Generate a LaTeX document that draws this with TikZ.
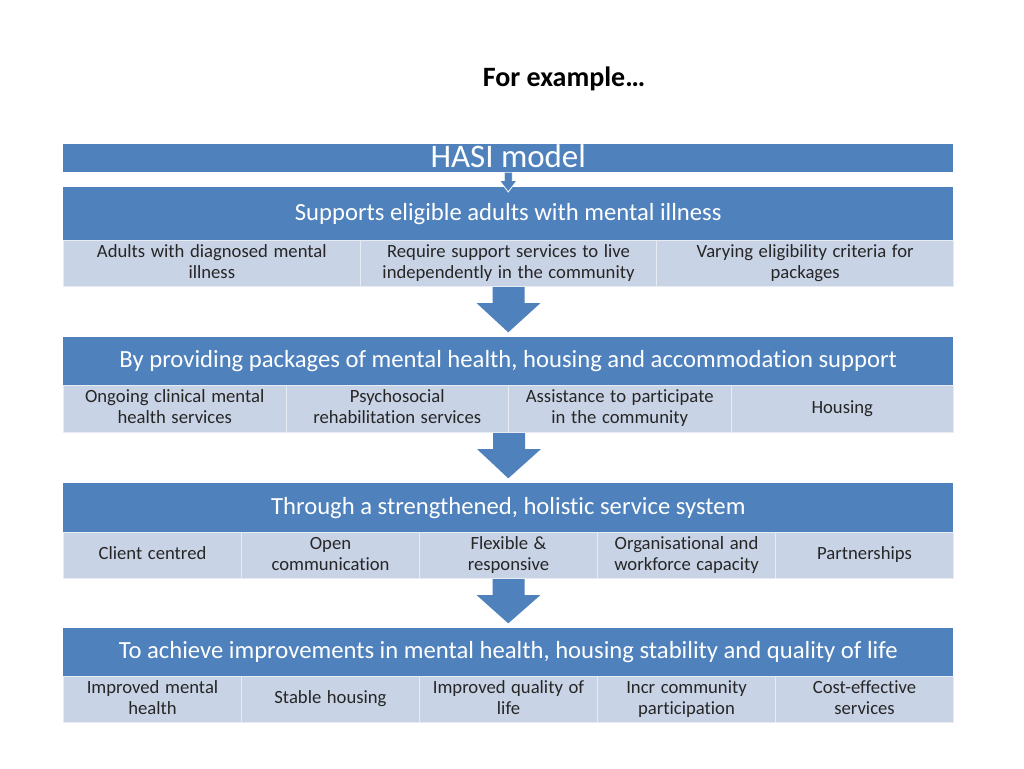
\documentclass[tikz,border=0pt]{standalone}
\usepackage{fontspec}
\setmainfont[Ligatures=NoCommon]{Carlito}
\usetikzlibrary{calc}
\definecolor{hblue}{HTML}{4F81BD}
\definecolor{cellc}{HTML}{C9D3E6}
\definecolor{celltext}{HTML}{262626}
\newcommand\hasiflow[2]{%
  \fill[hblue] let \p1=(#1), \p2=(#2) in
    (\x1-12pt,\y1) -- (\x1-12pt,\y1-12pt) -- (\x1-24pt,\y1-12pt) --
    (\x2,\y2+3.5pt) -- (\x1+24pt,\y1-12pt) -- (\x1+12pt,\y1-12pt) --
    (\x1+12pt,\y1) -- cycle;}
\newcommand\twol[2]{\strut #1\\\strut #2}
\newcommand\onel[1]{\strut #1}
\newcommand\cellfont{\fontsize{14}{15.8}\selectfont\spaceskip=0.3em plus 0.1em minus 0.05em\relax}
\begin{document}
\begin{tikzpicture}[x=0.75pt,y=-0.75pt,
  hdr/.style={rectangle, fill=hblue, text=white, inner sep=0pt, anchor=north west,
    minimum width=890*0.75pt, font=\fontsize{18.5}{22}\selectfont},
  cell/.style={rectangle, fill=cellc, draw=white!55!cellc, line width=0.75pt,
    text=celltext, inner sep=0pt, anchor=north west, align=center,
    font=\cellfont},
  w3/.style={minimum width=296.67*0.75pt},
  w4/.style={minimum width=222.5*0.75pt},
  w5/.style={minimum width=178*0.75pt},
]
\useasboundingbox (0,0) rectangle (1024,768);
\fill[white] (0,0) rectangle (1024,768);

\node[font=\bfseries\fontsize{21}{25}\selectfont, anchor=base, inner sep=0pt] (title) at (564,86) {For example…};

% HASI bar
\node[hdr, minimum height=28*0.75pt, text height=17.25pt, text depth=3.75pt,
  font=\fontsize{24.7}{28}\selectfont] (hasi) at (63,144) {HASI model};

% Section 1
\node[hdr, minimum height=53*0.75pt] (h1) at (63,187) {Supports eligible adults with mental illness};
\node[cell, w3, minimum height=46*0.75pt] (c11) at (63,240) {\twol{Adults with diagnosed mental}{illness}};
\node[cell, w3, minimum height=46*0.75pt] (c12) at (359.67,240) {\twol{Require support services to live}{independently in the community}};
\node[cell, w3, minimum height=46*0.75pt] (c13) at (656.33,240) {\twol{Varying eligibility criteria for}{packages}};

% Section 2
\node[hdr, minimum height=48*0.75pt] (h2) at (63,337) {By providing packages of mental health, housing and accommodation support};
\node[cell, w4, minimum height=47*0.75pt] (c21) at (63,385) {\twol{Ongoing clinical mental}{health services}};
\node[cell, w4, minimum height=47*0.75pt] (c22) at (285.5,385) {\twol{Psychosocial}{rehabilitation services}};
\node[cell, w4, minimum height=47*0.75pt] (c23) at (508,385) {\twol{Assistance to participate}{in the community}};
\node[cell, w4, minimum height=47*0.75pt] (c24) at (730.5,385) {\onel{Housing}};

% Section 3
\node[hdr, minimum height=49*0.75pt] (h3) at (63,483) {Through a strengthened, holistic service system};
\node[cell, w5, minimum height=46*0.75pt] (c31) at (63,532) {\onel{Client centred}};
\node[cell, w5, minimum height=46*0.75pt] (c32) at (241,532) {\twol{Open}{communication}};
\node[cell, w5, minimum height=46*0.75pt] (c33) at (419,532) {\twol{Flexible \&}{responsive}};
\node[cell, w5, minimum height=46*0.75pt] (c34) at (597,532) {\twol{Organisational and}{workforce capacity}};
\node[cell, w5, minimum height=46*0.75pt] (c35) at (775,532) {\onel{Partnerships}};

% Section 4
\node[hdr, minimum height=48*0.75pt] (h4) at (63,628) {To achieve improvements in mental health, housing stability and quality of life};
\node[cell, w5, minimum height=46*0.75pt] (c41) at (63,676) {\twol{Improved mental}{health}};
\node[cell, w5, minimum height=46*0.75pt] (c42) at (241,676) {\onel{Stable housing}};
\node[cell, w5, minimum height=46*0.75pt] (c43) at (419,676) {\twol{Improved quality of}{life}};
\node[cell, w5, minimum height=46*0.75pt] (c44) at (597,676) {\twol{Incr community}{participation}};
\node[cell, w5, minimum height=46*0.75pt] (c45) at (775,676) {\twol{Cost-effective}{services}};

% small arrow from HASI bar
\filldraw[fill=hblue, draw=white, line width=0.6pt] let \p1=(hasi.south), \p2=(h1.north) in
  (\x1-3pt,\y1) -- (\x1-3pt,\y1-6pt) -- (\x1-6.5pt,\y1-6pt) -- (\x2,\y2-3.75pt) --
  (\x1+6.5pt,\y1-6pt) -- (\x1+3pt,\y1-6pt) -- (\x1+3pt,\y1);

% big arrows
\hasiflow{c12.south}{h2.north}
\hasiflow{c22.south east}{h3.north}
\hasiflow{c33.south}{h4.north}
\end{tikzpicture}
\end{document}
